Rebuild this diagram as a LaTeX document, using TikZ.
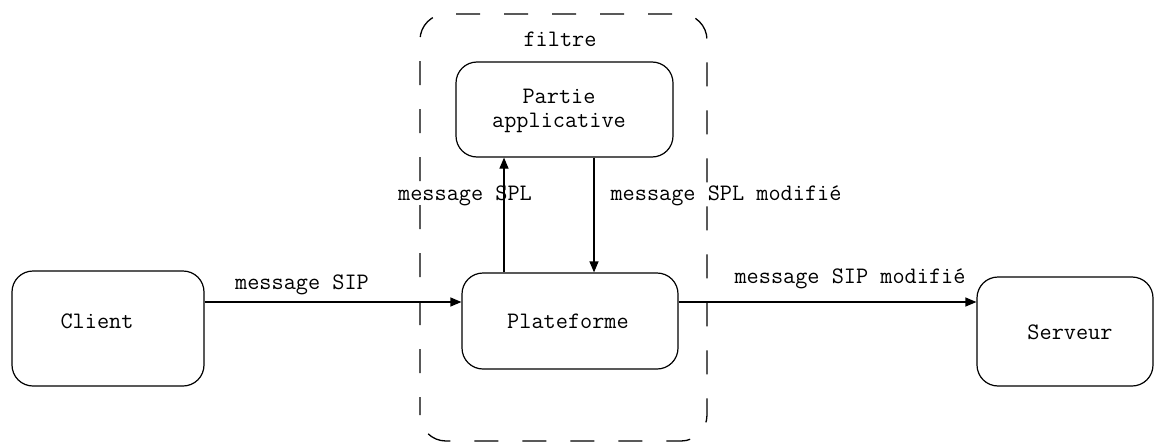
\documentclass[tikz,border=0pt]{standalone}
\usetikzlibrary{arrows.meta}
\tikzset{
  box/.style={draw, line width=1.2pt, rounded corners=21pt, inner sep=0pt},
  lbl/.style={font=\ttfamily\fontsize{23.6}{24}\selectfont, inner sep=0pt, align=center},
  flow/.style={line width=1.2pt, -{Triangle[length=11pt,width=9pt]}},
  frame/.style={line width=1.3pt, rounded corners=26pt, dash pattern=on 24pt off 24pt, dash phase=6pt}
}
\begin{document}
\begin{tikzpicture}[x=1pt,y=-1pt]
\useasboundingbox (0,0) rectangle (1155,444);
% filter frame
\draw[frame] (420,441) rectangle (707,14);
\node[lbl] (filtre) at (560,39) {filtre};
% boxes
\node[box, minimum width=192pt, minimum height=115pt] (client) at (108,328.5) {};
\node[box, minimum width=216pt, minimum height=96pt] (plat) at (570,321) {};
\node[box, minimum width=176pt, minimum height=109pt] (serv) at (1065,331.5) {};
\node[box, minimum width=217pt, minimum height=95pt] (app) at (564.5,109.5) {};
% box texts
\node[lbl] (tclient) at (97,321) {Client};
\node[lbl] (tplat) at (568,321) {Plateforme};
\node[lbl] (tserv) at (1070,332) {Serveur};
\node[lbl] (tapp) at (559,111) {Partie\\applicative};
% connectors
\draw[flow] (client.east |- 0,302) -- (plat.west |- 0,302);
\draw[flow] (plat.east |- 0,302) -- (serv.west |- 0,302);
\draw[flow] (504,0 |- plat.north) -- (504,0 |- app.south);
\draw[flow] (594,0 |- app.south) -- (594,0 |- plat.north);
% connector labels
\node[lbl] (l1) at (302,285) {message SIP};
\node[lbl] (l2) at (850,279) {message SIP modifié};
\node[lbl] (l3) at (465,196) {message SPL};
\node[lbl] (l4) at (726,196) {message SPL modifié};
\end{tikzpicture}
\end{document}
